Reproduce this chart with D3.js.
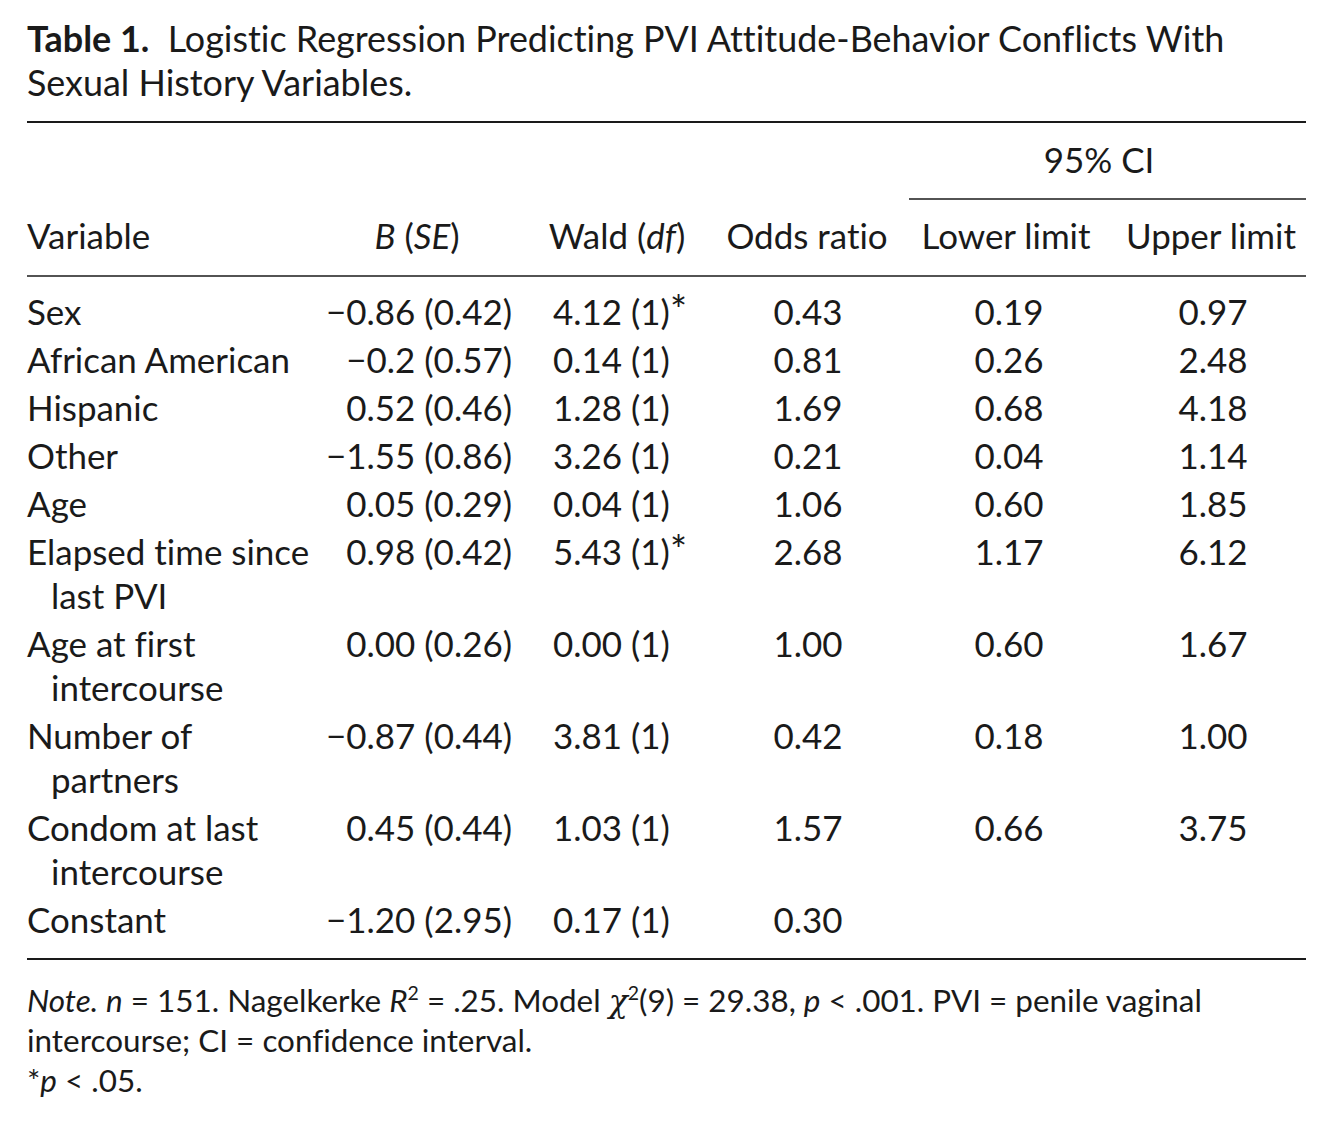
<!DOCTYPE html>
<html>
<head>
<meta charset="utf-8">
<script src="https://cdn.jsdelivr.net/npm/d3@7/dist/d3.min.js"></script>
<style>
  html, body { margin: 0; padding: 0; background: #fff; }
  svg { display: block; }
  text { font-family: Lato, "Noto Sans", sans-serif; fill: #1a1a1a; font-variant-ligatures: none; font-feature-settings: "liga" 0, "clig" 0; }
</style>
</head>
<body>
<svg id="chart" width="1332" height="1125"></svg>
<script>
// ---------------- DATA ----------------
const titleBold = "Table 1.";
const titleLine1 = "Logistic Regression Predicting PVI Attitude-Behavior Conflicts With";
const titleLine2 = "Sexual History Variables.";

const columns = ["Variable", "B (SE)", "Wald (df)", "Odds ratio", "Lower limit", "Upper limit"];
const spanner = "95% CI";

const variables = [
  ["Sex"],
  ["African American"],
  ["Hispanic"],
  ["Other"],
  ["Age"],
  ["Elapsed time since", "last PVI"],
  ["Age at first", "intercourse"],
  ["Number of", "partners"],
  ["Condom at last", "intercourse"],
  ["Constant"]
];
const bValues  = ["−0.86", "−0.2", "0.52", "−1.55", "0.05", "0.98", "0.00", "−0.87", "0.45", "−1.20"];
const seValues = ["0.42", "0.57", "0.46", "0.86", "0.29", "0.42", "0.26", "0.44", "0.44", "2.95"];
const waldValues = ["4.12", "0.14", "1.28", "3.26", "0.04", "5.43", "0.00", "3.81", "1.03", "0.17"];
const waldDf = [1, 1, 1, 1, 1, 1, 1, 1, 1, 1];
const significant = [true, false, false, false, false, true, false, false, false, false];
const oddsRatios = ["0.43", "0.81", "1.69", "0.21", "1.06", "2.68", "1.00", "0.42", "1.57", "0.30"];
const lowerLimits = ["0.19", "0.26", "0.68", "0.04", "0.60", "1.17", "0.60", "0.18", "0.66", ""];
const upperLimits = ["0.97", "2.48", "4.18", "1.14", "1.85", "6.12", "1.67", "1.00", "3.75", ""];

const noteLine1 = [
  {t: "Note.", i: true}, {t: " "}, {t: "n", i: true}, {t: " = 151. Nagelkerke "}, {t: "R", i: true},
  {t: "2", sup: true}, {t: " = .25. Model "}, {t: "χ", chi: true}, {t: "2", sup: true},
  {t: "(9) = 29.38, "}, {t: "p", i: true}, {t: " < .001. PVI = penile vaginal"}
];
const noteLine2 = [{t: "intercourse; CI = confidence interval."}];
const noteLine3 = [{t: "*"}, {t: "p", i: true}, {t: " < .05."}];

// ---------------- LAYOUT ----------------
const svg = d3.select("#chart");
const left = 27, right = 1306;

function measure(str, size, weight) {
  const t = svg.append("text").attr("font-size", size).attr("font-weight", weight || "normal").text(str);
  const w = t.node().getComputedTextLength();
  t.remove();
  return w;
}
// choose font sizes so the widths match the reference
const bodySize = 32 * 263 / measure("African American", 32);
const noteSize = (function () {
  const g = svg.append("text").attr("font-size", 28);
  noteLine1.forEach(p => g.append("tspan").attr("font-style", p.i ? "italic" : null).text(p.t));
  const w = g.node().getComputedTextLength(); g.remove();
  return 28 * 1185 / w;
})();
const titleSize = (function () {
  const g = svg.append("text").attr("font-size", 32);
  g.append("tspan").attr("font-weight", "bold").text(titleBold + "  ");
  g.append("tspan").text(titleLine1);
  const w = g.node().getComputedTextLength(); g.remove();
  return 32 * 1188 / w;
})();

// Title
const title = svg.append("g").attr("font-size", titleSize);
const t1 = title.append("text").attr("x", left).attr("y", 52).attr("xml:space", "preserve");
t1.append("tspan").attr("font-weight", "bold").text(titleBold);
t1.append("tspan").text("\u00a0 " + titleLine1);
title.append("text").attr("x", left).attr("y", 96).text(titleLine2);

// Rules
const rules = [
  {x1: left, x2: right, y: 122, w: 2},
  {x1: 909, x2: right, y: 199, w: 1.6},
  {x1: left, x2: right, y: 276, w: 1.6},
  {x1: left, x2: right, y: 959, w: 2}
];
svg.append("g").selectAll("line").data(rules).join("line")
  .attr("x1", d => d.x1).attr("x2", d => d.x2)
  .attr("y1", d => d.y).attr("y2", d => d.y)
  .attr("stroke", "#1a1a1a").attr("stroke-width", d => d.w);

// Column scales (anchor x for each column)
const colX = d3.scaleOrdinal()
  .domain(columns)
  .range([left, 512, 553, 808, 1009, 1213]);
const headX = d3.scaleOrdinal()
  .domain(columns)
  .range([left, 417, 617, 807, 1006, 1211]);

// Header
const header = svg.append("g").attr("font-size", bodySize);
header.append("text").attr("x", 1099).attr("y", 173).attr("text-anchor", "middle").text(spanner);
const headerParts = {
  "Variable": [{t: "Variable"}],
  "B (SE)": [{t: "B", i: true}, {t: " ("}, {t: "SE", i: true}, {t: ")"}],
  "Wald (df)": [{t: "Wald ("}, {t: "df", i: true}, {t: ")"}],
  "Odds ratio": [{t: "Odds ratio"}],
  "Lower limit": [{t: "Lower limit"}],
  "Upper limit": [{t: "Upper limit"}]
};
columns.forEach((c, ci) => {
  const tx = header.append("text").attr("x", headX(c)).attr("y", 249)
    .attr("text-anchor", ci === 0 ? "start" : "middle").attr("xml:space", "preserve");
  headerParts[c].forEach(p => tx.append("tspan").attr("font-style", p.i ? "italic" : null).text(p.t));
});

// Row positions: single-line row step 48px, wrapped line step 44px
const firstBaseline = 325, rowStep = 48, wrapStep = 44;
const rowY = [];
let acc = firstBaseline;
variables.forEach(v => { rowY.push(acc); acc += rowStep + wrapStep * (v.length - 1); });
const yScale = d3.scaleOrdinal().domain(d3.range(variables.length)).range(rowY);

const rows = svg.append("g").attr("font-size", bodySize)
  .selectAll("g.row").data(variables.map((v, i) => ({
    lines: v, b: bValues[i], se: seValues[i], wald: waldValues[i], df: waldDf[i],
    sig: significant[i], or: oddsRatios[i], lo: lowerLimits[i], hi: upperLimits[i], i
  })))
  .join("g").attr("class", "row")
  .attr("transform", d => `translate(0,${yScale(d.i)})`);

// Variable labels (continuation lines indented)
rows.each(function (d) {
  const g = d3.select(this);
  d.lines.forEach((ln, k) => {
    g.append("text").attr("x", colX("Variable") + (k > 0 ? 24 : 0)).attr("y", k * wrapStep).text(ln);
  });
});
rows.append("text").attr("x", colX("B (SE)")).attr("text-anchor", "end")
  .text(d => `${d.b} (${d.se})`);
const waldText = rows.append("text").attr("x", colX("Wald (df)")).attr("text-anchor", "start");
waldText.append("tspan").text(d => `${d.wald} (${d.df})`);
waldText.filter(d => d.sig).append("tspan").attr("font-size", bodySize * 1.15).text("*");
rows.append("text").attr("x", colX("Odds ratio")).attr("text-anchor", "middle").text(d => d.or);
rows.append("text").attr("x", colX("Lower limit")).attr("text-anchor", "middle").text(d => d.lo);
rows.append("text").attr("x", colX("Upper limit")).attr("text-anchor", "middle").text(d => d.hi);

// Note
const note = svg.append("g").attr("font-size", noteSize);
[[noteLine1, 1012], [noteLine2, 1052], [noteLine3, 1092]].forEach(([parts, y]) => {
  const tx = note.append("text").attr("x", left).attr("y", y).attr("xml:space", "preserve");
  let raised = false;
  parts.forEach(p => {
    const s = tx.append("tspan").text(p.t);
    if (p.i) s.attr("font-style", "italic");
    if (p.chi) s.attr("font-family", "DejaVu Serif, serif").attr("font-style", "italic");
    if (p.sup && !raised) { s.attr("font-size", noteSize * 0.62).attr("dy", -noteSize * 0.38); raised = true; }
    else if (!p.sup && raised) { s.attr("dy", noteSize * 0.38); raised = false; }
  });
});
</script>
</body>
</html>
